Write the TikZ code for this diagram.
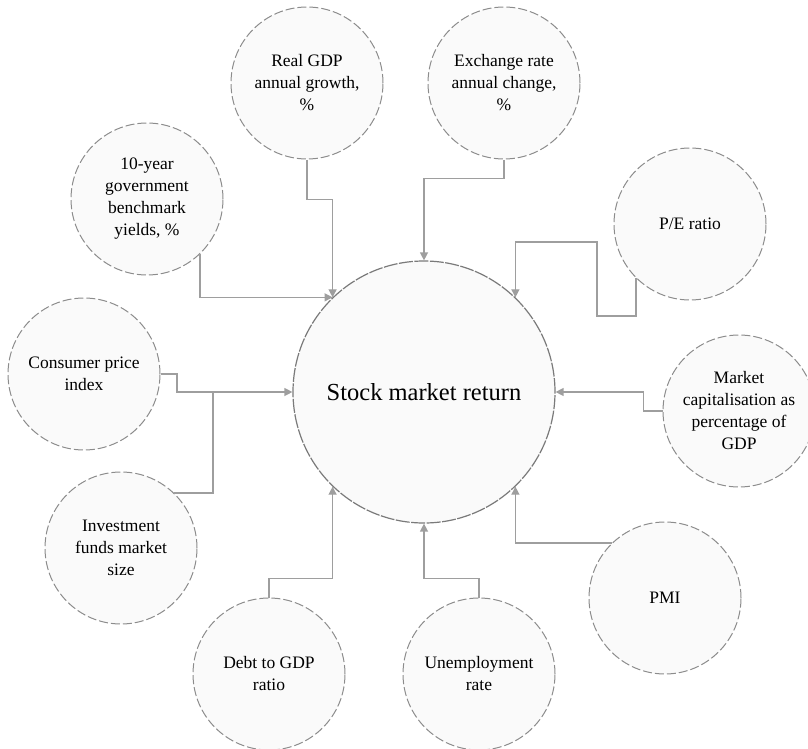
\documentclass[tikz,border=0pt]{standalone}
\usepackage{fontspec}
\setmainfont{Liberation Serif}
\usetikzlibrary{arrows.meta}
\definecolor{bubblefill}{HTML}{FAFAFA}
\definecolor{bubbleline}{HTML}{8C8C8C}
\definecolor{hubline}{HTML}{7A7A7A}
\definecolor{linkcol}{HTML}{9E9E9E}
\begin{document}
\begin{tikzpicture}[x=1pt,y=-1pt,
  factor/.style={circle, draw=bubbleline, fill=bubblefill, line width=1pt,
    dash pattern=on 9pt off 3pt, minimum size=152pt, inner sep=0pt,
    align=center, font=\fontsize{17.5}{22}\selectfont},
  hub/.style={circle, draw=hubline, fill=bubblefill, line width=1.2pt,
    dash pattern=on 14pt off 1.5pt, minimum size=262pt, inner sep=0pt,
    font=\fontsize{24.5}{30}\selectfont},
  link/.style={draw=linkcol, line width=1.3pt},
  feed/.style={link, -{Triangle[length=8pt,width=8pt]}}]
\useasboundingbox (0,0) rectangle (808,749);

% central outcome
\node[hub] (sm) at (424,392) {Stock market return};

% explanatory factors
\node[factor] (real) at (307,83)  {Real GDP\\annual growth,\\\%};
\node[factor] (ex)   at (504,83)  {Exchange rate\\annual change,\\\%};
\node[factor] (ten)  at (147,199) {10-year\\government\\benchmark\\yields, \%};
\node[factor] (pe)   at (690,224) {P/E ratio};
\node[factor] (cpi)  at (84,374)  {Consumer price\\index};
\node[factor] (mc)   at (739,411) {Market\\capitalisation as\\percentage of\\GDP};
\node[factor] (inv)  at (121,548) {Investment\\funds market\\size};
\node[factor] (pmi)  at (665,598) {PMI};
\node[factor] (debt) at (269,674) {Debt to GDP\\ratio};
\node[factor] (un)   at (479,674) {Unemployment\\rate};

% bend points of the elbow connectors
\coordinate (peA) at (597,316);
\coordinate (peB) at (597,242);
\coordinate (cpiJ) at (177,392);
\coordinate (invJ) at (213,392);

% connectors into the central circle
\draw[feed] (ten.-46) |- (sm.134);
\draw[feed] (real.south) -- ++(0,40) -| (sm.134);
\draw[feed] (ex.south) -- ++(0,19) -| (sm.north);
\draw[feed] (pe.-135) |- (peA) -- (peB) -| (sm.46);
\draw[feed] (mc.west) -- ++(-19,0) |- (sm.east);
\draw[feed] (cpi.east) -| (cpiJ) -- (sm.west);
\draw[link] (inv.46) -| (invJ);
\draw[feed] (debt.north) -- ++(0,-19) -| (sm.-134);
\draw[feed] (un.north) -- ++(0,-19) -| (sm.south);
\draw[feed] (pmi.134) -| (sm.-46);
\end{tikzpicture}
\end{document}
